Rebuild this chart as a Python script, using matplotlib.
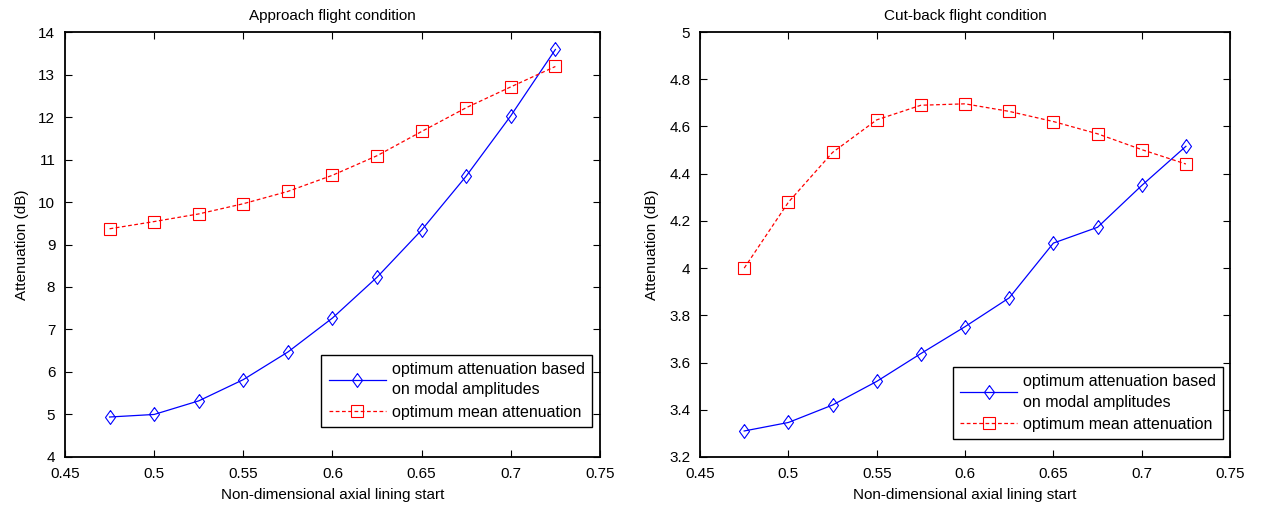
import matplotlib
matplotlib.use("Agg")
import matplotlib.pyplot as plt

plt.rcParams['font.family'] = ['Liberation Sans', 'DejaVu Sans']

x = [0.475, 0.5, 0.525, 0.55, 0.575, 0.6, 0.625, 0.65, 0.675, 0.7, 0.725]

# Approach flight condition
approach_modal = [4.94, 5.0, 5.32, 5.82, 6.47, 7.27, 8.23, 9.34, 10.61, 12.03, 13.59]
approach_mean = [9.37, 9.54, 9.72, 9.96, 10.25, 10.63, 11.09, 11.66, 12.22, 12.71, 13.19]

# Cut-back flight condition
cutback_modal = [3.31, 3.346, 3.42, 3.52, 3.638, 3.752, 3.874, 4.106, 4.173, 4.35, 4.516]
cutback_mean = [4.0, 4.279, 4.49, 4.628, 4.69, 4.696, 4.664, 4.621, 4.569, 4.502, 4.441]

xticks = [0.45, 0.5, 0.55, 0.6, 0.65, 0.7, 0.75]
xticklabels = ["0.45", "0.5", "0.55", "0.6", "0.65", "0.7", "0.75"]
left_yticks = list(range(4, 15))
right_yticks = [3.2, 3.4, 3.6, 3.8, 4.0, 4.2, 4.4, 4.6, 4.8, 5.0]
right_yticklabels = ["3.2", "3.4", "3.6", "3.8", "4", "4.2", "4.4", "4.6", "4.8", "5"]

labels = ["optimum attenuation based\non modal amplitudes", "optimum mean attenuation"]

# matlab-like diamond, a bit wider than matplotlib's thin one
diamond = [(0, 1), (0.72, 0), (0, -1), (-0.72, 0), (0, 1)]

fig = plt.figure(figsize=(12.62, 5.14), dpi=100)
ax1 = fig.add_axes([0.0515, 0.111, 0.4239, 0.8266])
ax2 = fig.add_axes([0.5547, 0.111, 0.42, 0.8266])


def style(ax, modal, mean, title, ylim, yticks, yticklabels, leg_anchor):
    ax.plot(x, modal, color="blue", linewidth=0.9, marker=diamond, markersize=10,
            fillstyle="none", markeredgewidth=0.8, label=labels[0])
    ax.plot(x, mean, color="red", linewidth=0.9, linestyle=(0, (3, 2)), marker="s",
            markersize=9, fillstyle="none", markeredgewidth=0.8, label=labels[1])
    ax.set_xlim(0.45, 0.75)
    ax.set_ylim(*ylim)
    ax.set_xticks(xticks)
    ax.set_xticklabels(xticklabels)
    ax.set_yticks(yticks)
    ax.set_yticklabels(yticklabels)
    ax.tick_params(direction="in", top=True, right=True, labelsize=11, length=5,
                   width=0.8, pad=7)
    for s in ax.spines.values():
        s.set_linewidth(1.3)
    ax.set_title(title, fontsize=11, pad=9)
    ax.set_xlabel("Non-dimensional axial lining start", fontsize=11, labelpad=5)
    ax.set_ylabel("Attenuation (dB)", fontsize=11, labelpad=7)
    leg = ax.legend(loc="lower right", bbox_to_anchor=leg_anchor, fontsize=11.5,
                    fancybox=False, framealpha=1, edgecolor="black",
                    handlelength=3.6, handletextpad=0.35, borderaxespad=0,
                    borderpad=0.45, labelspacing=0.45)
    leg.get_texts()[0].set_linespacing(1.45)
    leg.get_frame().set_linewidth(1.0)


style(ax1, approach_modal, approach_mean, "Approach flight condition", (4, 14),
      left_yticks, [str(v) for v in left_yticks], (0.985, 0.071))
style(ax2, cutback_modal, cutback_mean, "Cut-back flight condition", (3.2, 5.0),
      right_yticks, right_yticklabels, (0.987, 0.042))

fig.savefig("out.png", dpi=100)
